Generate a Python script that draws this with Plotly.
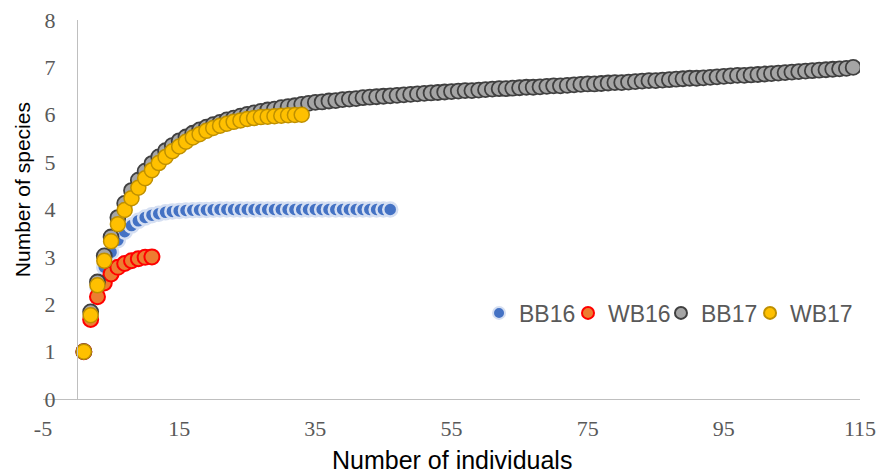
import plotly.graph_objects as go

# ---- data ----
bb16_y = [1.00, 1.75, 2.35, 2.78, 3.10, 3.35, 3.53, 3.66, 3.76, 3.83,
          3.88, 3.91, 3.94, 3.96, 3.97, 3.98, 3.985, 3.99, 3.99, 3.995,
          4.0, 4.0, 4.0, 4.0, 4.0, 4.0, 4.0, 4.0, 4.0, 4.0,
          4.0, 4.0, 4.0, 4.0, 4.0, 4.0, 4.0, 4.0, 4.0, 4.0,
          4.0, 4.0, 4.0, 4.0, 4.0, 4.0]
wb16_y = [1.00, 1.68, 2.16, 2.45, 2.64, 2.78, 2.86, 2.92, 2.96, 2.99, 3.00]
bb17_y = [1.00, 1.84, 2.47, 3.02, 3.42, 3.83, 4.13, 4.40, 4.62, 4.81,
          4.97, 5.11, 5.24, 5.35, 5.45, 5.53, 5.61, 5.68, 5.74, 5.79,
          5.84, 5.89, 5.93, 5.97, 6.01, 6.04, 6.07, 6.10, 6.12, 6.15,
          6.17, 6.19, 6.22, 6.24, 6.26, 6.27, 6.29, 6.30, 6.32, 6.33,
          6.34, 6.36, 6.37, 6.38, 6.39, 6.40, 6.41, 6.42, 6.43, 6.44,
          6.45, 6.46, 6.47, 6.48, 6.49, 6.50, 6.51, 6.51, 6.52, 6.53,
          6.54, 6.55, 6.55, 6.56, 6.57, 6.58, 6.58, 6.59, 6.60, 6.61,
          6.61, 6.62, 6.63, 6.64, 6.65, 6.65, 6.66, 6.67, 6.68, 6.68,
          6.69, 6.70, 6.71, 6.72, 6.72, 6.73, 6.74, 6.75, 6.76, 6.77,
          6.77, 6.78, 6.79, 6.80, 6.81, 6.82, 6.83, 6.83, 6.84, 6.85,
          6.86, 6.87, 6.88, 6.89, 6.90, 6.91, 6.92, 6.93, 6.94, 6.95,
          6.96, 6.97, 6.98, 7.00]
wb17_y = [1.00, 1.77, 2.40, 2.92, 3.33, 3.69, 3.99, 4.24, 4.46, 4.66,
          4.83, 4.98, 5.11, 5.23, 5.33, 5.43, 5.52, 5.59, 5.66, 5.72,
          5.77, 5.81, 5.85, 5.88, 5.91, 5.93, 5.95, 5.96, 5.97, 5.98,
          5.99, 5.995, 6.00]

bb16_x = list(range(1, len(bb16_y) + 1))
wb16_x = list(range(1, len(wb16_y) + 1))
bb17_x = list(range(1, len(bb17_y) + 1))
wb17_x = list(range(1, len(wb17_y) + 1))

x_ticks = [-5, 15, 35, 55, 75, 95, 115]
y_ticks = [0, 1, 2, 3, 4, 5, 6, 7, 8]
x_title = "Number of individuals"
y_title = "Number of species"

fig = go.Figure()
fig.add_trace(go.Scatter(x=bb16_x, y=bb16_y, mode="markers", name="BB16",
                         legend="legend",
                         marker=dict(size=14, color="#4472C4",
                                     line=dict(width=2.5, color="#D5DFF2"))))
fig.add_trace(go.Scatter(x=wb16_x, y=wb16_y, mode="markers", name="WB16",
                         legend="legend2",
                         marker=dict(size=15, color="#ED7D31",
                                     line=dict(width=2, color="#FF0000"))))
fig.add_trace(go.Scatter(x=bb17_x, y=bb17_y, mode="markers", name="BB17",
                         legend="legend3",
                         marker=dict(size=15, color="#A5A5A5",
                                     line=dict(width=1.8, color="#404040"))))
fig.add_trace(go.Scatter(x=wb17_x, y=wb17_y, mode="markers", name="WB17",
                         legend="legend4",
                         marker=dict(size=15, color="#FFC000",
                                     line=dict(width=1.5, color="#BF9000"))))

tick_font = dict(family="Liberation Serif", size=22, color="#595959")


def legend_box(xpos):
    return dict(orientation="h", x=xpos, y=0.227, xanchor="left", yanchor="middle",
                font=dict(family="Arial", size=23, color="#595959"),
                bgcolor="rgba(0,0,0,0)", itemwidth=30, itemsizing="constant")


fig.update_layout(
    width=877, height=475,
    margin=dict(l=43, r=17, t=20, b=76),
    plot_bgcolor="white", paper_bgcolor="white",
    showlegend=True,
    legend=legend_box(0.5337),
    legend2=legend_box(0.6426),
    legend3=legend_box(0.7564),
    legend4=legend_box(0.8654),
    xaxis=dict(range=[-5, 115], tickmode="array", tickvals=x_ticks,
               ticktext=[str(v) for v in x_ticks],
               showgrid=False, zeroline=False, automargin=False,
               showline=True, linecolor="#BFBFBF", linewidth=1.3,
               ticks="", tickfont=tick_font, ticklabelstandoff=9),
    yaxis=dict(range=[0, 8], tickmode="array", tickvals=y_ticks,
               ticktext=[str(v) for v in y_ticks],
               anchor="free", position=5 / 120, automargin=False,
               showgrid=False, zeroline=False,
               showline=True, linecolor="#BFBFBF", linewidth=1.3,
               ticks="", tickfont=tick_font, ticklabelstandoff=17),
    annotations=[
        dict(text=x_title, xref="paper", yref="paper", x=0.5, y=-0.162,
             xanchor="center", yanchor="middle", showarrow=False,
             font=dict(family="Arial", size=25, color="black")),
        dict(text=y_title, xref="paper", yref="paper", x=-0.0257, y=0.551,
             xanchor="center", yanchor="middle", textangle=-90, showarrow=False,
             font=dict(family="Arial", size=21, color="black")),
    ],
)

fig.write_html("out.html", config={"displayModeBar": False},
               post_script="document.body.style.margin='0';document.body.style.overflow='hidden';")
